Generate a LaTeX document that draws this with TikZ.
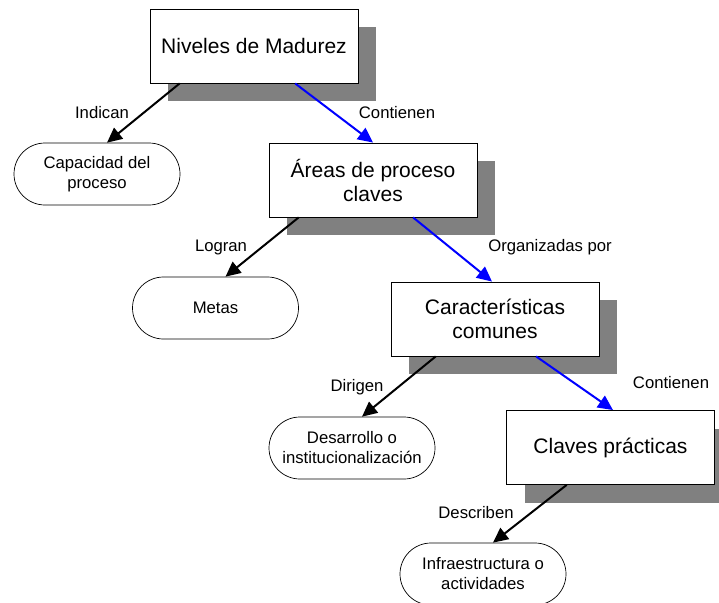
\documentclass[tikz,border=0pt]{standalone}
\usepackage{fontspec}
\setmainfont{Liberation Sans}
\usetikzlibrary{arrows.meta,calc,shadows}
\definecolor{shgray}{RGB}{128,128,128}
\definecolor{linkblue}{RGB}{0,0,255}
\tikzset{
  concept/.style={draw=black, line width=0.9pt, fill=white, minimum width=208pt,
    minimum height=74pt, inner sep=0pt, align=center,
    font=\fontsize{21}{24}\selectfont,
    drop shadow={shadow xshift=18pt, shadow yshift=-18pt, fill=shgray, opacity=1}},
  result/.style={draw=black, line width=0.7pt, fill=white, minimum width=166pt,
    minimum height=62pt, inner sep=0pt, rounded corners=31pt, align=center,
    font=\fontsize{16.7}{20}\selectfont},
  linklabel/.style={inner sep=0pt, font=\fontsize{16.7}{20}\selectfont},
  link/.style={line width=2pt, -{Triangle[length=15pt,width=14pt]}},
  blacklink/.style={link, draw=black, fill=black},
  bluelink/.style={link, draw=linkblue, fill=linkblue},
}
\begin{document}
\begin{tikzpicture}[x=1pt, y=-1pt]
\useasboundingbox (0,0) rectangle (719,602);

% concept boxes with shadows
\node[concept] (niveles) at (254,46) {Niveles de Madurez};
\node[concept] (areas) at (373,180) {Áreas de proceso\\claves};
\node[concept] (caract) at (495,319) {Características\\comunes};
\node[concept] (claves) at (610.5,447.5) {Claves prácticas};

% rounded outcome nodes
\node[result] (capacidad) at (97,174) {Capacidad del\\proceso};
\node[result] (metas) at (215.5,308) {Metas};
\node[result] (desarrollo) at (352,448) {Desarrollo o\\institucionalización};
\node[result] (infra) at (483,574) {Infraestructura o\\actividades};

% connectors
\draw[blacklink] ($(niveles.south west)!0.144!(niveles.south east)$)
  -- ($(capacidad.north west)!0.56!(capacidad.north east)$);
\draw[bluelink] ($(niveles.south west)!0.697!(niveles.south east)$) -- (areas.north);
\draw[blacklink] ($(areas.south west)!0.144!(areas.south east)$)
  -- ($(metas.north west)!0.56!(metas.north east)$);
\draw[bluelink] ($(areas.south west)!0.692!(areas.south east)$) -- ($(caract.north)+(-3,0)$);
\draw[blacklink] ($(caract.south west)!0.216!(caract.south east)$)
  -- ($(desarrollo.north west)!0.56!(desarrollo.north east)$);
\draw[bluelink] ($(caract.south west)!0.697!(caract.south east)$) -- ($(claves.north)+(2.5,0)$);
\draw[blacklink] ($(claves.south west)!0.29!(claves.south east)$)
  -- ($(infra.north west)!0.56!(infra.north east)$);

% connector labels
\node[linklabel] (l1) at (102,113) {Indican};
\node[linklabel] (l2) at (397,113) {Contienen};
\node[linklabel] (l3) at (221,247) {Logran};
\node[linklabel] (l4) at (550,247) {Organizadas por};
\node[linklabel] (l5) at (357,387) {Dirigen};
\node[linklabel] (l6) at (671,383) {Contienen};
\node[linklabel] (l7) at (476,513) {Describen};
\end{tikzpicture}
\end{document}
